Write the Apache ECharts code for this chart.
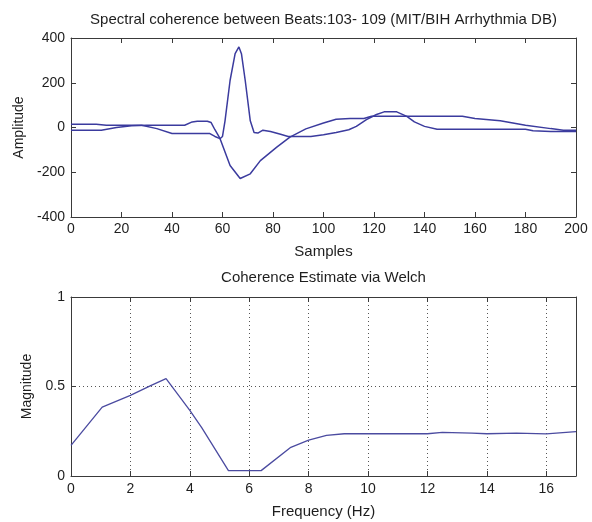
<!DOCTYPE html>
<html><head><meta charset="utf-8">
<script src="https://cdn.jsdelivr.net/npm/echarts@6/dist/echarts.min.js"></script>
<style>html,body{margin:0;padding:0;background:#fff}#c{width:592px;height:522px}</style>
</head><body><div id="c"></div>
<script>
// Beat 103 (spike) and beat 109 (trough) traces
const beatA_x = [0,10,14,20,28,34,40,55,57,59,60,61,63,65,66.5,67.5,69,71,72.5,74,76,79,83,86,95,100,105,110,113,117,121,124,129,133,136,140,145,150,180,183,190,200];
const beatA_y = [15,15,10,10,10,-5,-27,-27,-40,-50,-40,30,210,330,360,330,210,30,-22,-25,-12,-18,-30,-40,-40,-32,-22,-10,5,35,58,70,70,50,25,5,-8,-8,-8,-15,-18,-18];
const beatB_x = [0,12,18,24,30,45,48,50,54,55.5,57,59,63,67,71,75,81.5,86.7,93,100,105,110.5,116,119,155,160,170,180,190,195,200];
const beatB_y = [-12,-12,0,8,10,10,25,28,28,22,-10,-49,-170,-228,-207,-148,-88,-43,-6,20,37,40,40,50,50,40,30,10,-5,-12,-12];
// Coherence estimate
const freqHz = [0,1.05,2,2.7,3.2,4,4.4,5.3,6.4,7.4,8,8.6,9.2,12,12.5,13.5,14,15,16,17];
const cohMag = [0.171,0.385,0.45,0.506,0.544,0.367,0.27,0.03,0.03,0.16,0.2,0.227,0.236,0.236,0.244,0.24,0.236,0.24,0.235,0.248];
// Titles
const titleTop = 'Spectral coherence between Beats:103- 109 (MIT/BIH Arrhythmia DB)';
const titleBottom = 'Coherence Estimate via Welch';

const pairs = (xs, ys) => xs.map((x, i) => [x, ys[i]]);
const FONT = 'Liberation Sans, Arial, sans-serif';
const AX = '#3a3a3a';
const TXT = '#1e1e1e';
const LINE = '#3b3b9e';

function boxAxes(gi, cfg) {
  return {
    gridIndex: gi, type: 'value', min: cfg.min, max: cfg.max, interval: cfg.interval,
    axisLine: {show: true, onZero: false, lineStyle: {color: AX, width: 1}},
    axisTick: {show: true, inside: true, length: 5, lineStyle: {color: AX}},
    splitLine: {show: !!cfg.grid, lineStyle: {color: '#555', type: [1, 3], width: 1}},
    axisLabel: {show: false}
  };
}
const lbl = (extra) => Object.assign({show: true, fontSize: 14, color: TXT, fontFamily: FONT}, extra || {});
const nameStyle = {fontSize: 15, color: TXT, fontFamily: FONT};

const option = {
  backgroundColor: '#fff',
  animation: false,
  textStyle: {fontFamily: FONT},
  grid: [
    {left: 71, top: 38, width: 505, height: 179},
    {left: 71, top: 297, width: 505, height: 179}
  ],
  graphic: [
    {type: 'text', x: 323.5, y: 12, style: {text: titleTop, font: '15px ' + FONT, fill: TXT, align: 'center'}},
    {type: 'text', x: 323.5, y: 270, style: {text: titleBottom, font: '15px ' + FONT, fill: TXT, align: 'center'}}
  ],
  xAxis: [
    Object.assign(boxAxes(0, {min: 0, max: 200, interval: 20}), {
      position: 'bottom', name: 'Samples', nameLocation: 'middle', nameGap: 27,
      nameTextStyle: nameStyle, axisLabel: lbl({margin: 5})
    }),
    Object.assign(boxAxes(0, {min: 0, max: 200, interval: 20}), {position: 'top'}),
    Object.assign(boxAxes(1, {min: 0, max: 17, interval: 2, grid: true}), {
      position: 'bottom', name: 'Frequency (Hz)', nameLocation: 'middle', nameGap: 28,
      nameTextStyle: nameStyle,
      axisLabel: lbl({margin: 6, formatter: v => (v === 17 ? '' : String(v))})
    }),
    Object.assign(boxAxes(1, {min: 0, max: 17, interval: 2}), {position: 'top'})
  ],
  yAxis: [
    Object.assign(boxAxes(0, {min: -400, max: 400, interval: 200}), {
      position: 'left', name: 'Amplitude', nameLocation: 'middle', nameGap: 41,
      nameTextStyle: {fontSize: 14, color: TXT, fontFamily: FONT}, axisLabel: lbl({margin: 6})
    }),
    Object.assign(boxAxes(0, {min: -400, max: 400, interval: 200}), {position: 'right'}),
    Object.assign(boxAxes(1, {min: 0, max: 1, interval: 0.5, grid: true}), {
      position: 'left', name: 'Magnitude', nameLocation: 'middle', nameGap: 34,
      nameTextStyle: {fontSize: 14, color: TXT, fontFamily: FONT}, axisLabel: lbl({margin: 6})
    }),
    Object.assign(boxAxes(1, {min: 0, max: 1, interval: 0.5}), {position: 'right'})
  ],
  series: [
    {type: 'line', xAxisIndex: 0, yAxisIndex: 0, data: pairs(beatA_x, beatA_y), showSymbol: false, lineStyle: {color: LINE, width: 1.5}},
    {type: 'line', xAxisIndex: 0, yAxisIndex: 0, data: pairs(beatB_x, beatB_y), showSymbol: false, lineStyle: {color: LINE, width: 1.5}},
    {type: 'line', xAxisIndex: 2, yAxisIndex: 2, data: pairs(freqHz, cohMag), showSymbol: false, lineStyle: {color: '#4b4ba0', width: 1.3}}
  ]
};
const chart = echarts.init(document.getElementById('c'), null, {renderer: 'canvas'});
chart.setOption(option);
</script></body></html>
